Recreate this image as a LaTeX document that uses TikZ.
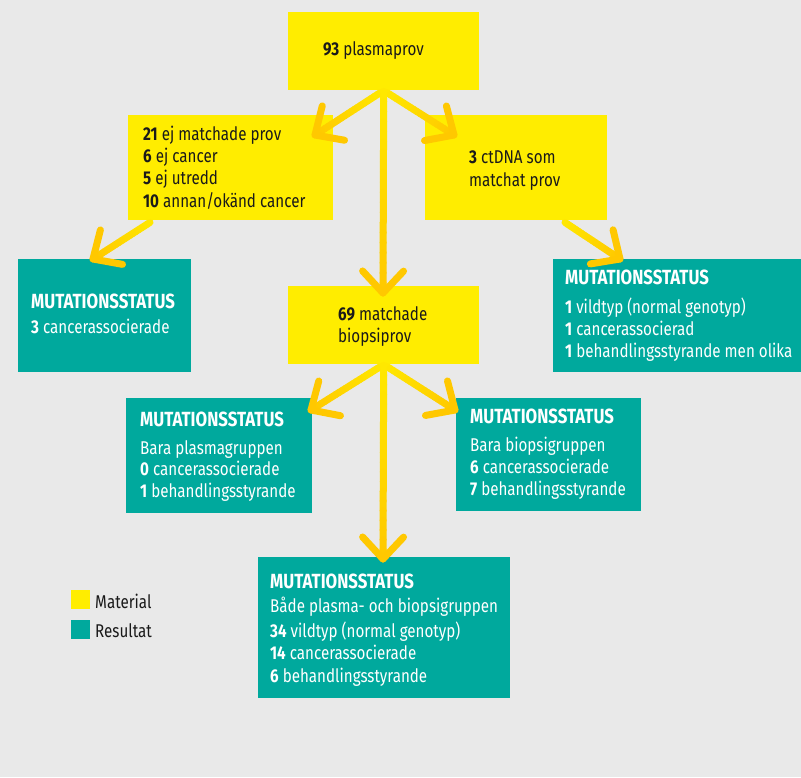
\documentclass[tikz,border=0pt]{standalone}
\usepackage{fontspec}
\setmainfont{Fira Sans}[FakeStretch=0.82]
\usetikzlibrary{calc}
\definecolor{bg}{HTML}{E9E9E9}
\definecolor{ylw}{HTML}{FFED00}
\definecolor{tealbox}{HTML}{00A99D}
\definecolor{arrA}{HTML}{FFE800}
\definecolor{arrB}{HTML}{FFC800}
\definecolor{ink}{HTML}{1A1A1A}
\tikzset{
  matbox/.style={fill=ylw, draw=none, inner sep=0pt, anchor=north west},
  resbox/.style={fill=tealbox, draw=none, inner sep=0pt, anchor=north west},
  dtxt/.style={anchor=base west, inner sep=0pt, text=ink, font=\fontsize{18.5}{22}\selectfont},
  wtxt/.style={anchor=base west, inner sep=0pt, text=white, font=\fontsize{18.5}{22}\selectfont},
  hdr/.style={anchor=base west, inner sep=0pt, text=white, font=\fontsize{20.5}{22}\selectfont\bfseries},
  arrline/.style={line width=7pt, line cap=round, line join=round},
}
\newcommand\gradarrow[2]{%
  \foreach \i in {0,...,19}{%
    \pgfmathsetmacro\pa{\i/20}%
    \pgfmathsetmacro\pb{(\i+1)/20}%
    \pgfmathtruncatemacro\mm{100-\i*5}%
    \draw[arrline, color=arrA!\mm!arrB] ($(#1)!\pa!(#2)$) -- ($(#1)!\pb!(#2)$);
  }%
  \draw[arrline, color=arrB] ($(#2)!30pt!43:(#1)$) -- (#2) -- ($(#2)!30pt!-43:(#1)$);
}
\begin{document}
\begin{tikzpicture}[x=1pt,y=-1pt]
\useasboundingbox (0,0) rectangle (801,777);
\fill[bg] (0,0) rectangle (801,777);

% boxes
\node[matbox, minimum width=191pt, minimum height=78pt] (top) at (288,12) {};
\node[matbox, minimum width=205pt, minimum height=105pt] (nomatch) at (128,115) {};
\node[matbox, minimum width=182pt, minimum height=105pt] (ctdna) at (425,115) {};
\node[resbox, minimum width=173pt, minimum height=113pt] (resL) at (18,259) {};
\node[matbox, minimum width=191pt, minimum height=78pt] (biop) at (288,286) {};
\node[resbox, minimum width=248pt, minimum height=113pt] (resR) at (553,259) {};
\node[resbox, minimum width=186pt, minimum height=115pt] (resP) at (126,398) {};
\node[resbox, minimum width=185pt, minimum height=113pt] (resB) at (456,398) {};
\node[resbox, minimum width=252pt, minimum height=141pt] (resBoth) at (258,557) {};

% texts
\node[dtxt] (t0) at (323,55) {\textbf{93} plasmaprov};

\node[dtxt] (t1a) at (143,140) {\textbf{21} ej matchade prov};
\node[dtxt] (t1b) at (143,162) {\textbf{6} ej cancer};
\node[dtxt] (t1c) at (143,184) {\textbf{5} ej utredd};
\node[dtxt] (t1d) at (143,207) {\textbf{10} annan/okänd cancer};

\node[dtxt] (t2a) at (469,163) {\textbf{3} ctDNA som};
\node[dtxt] (t2b) at (469,186) {matchat prov};

\node[hdr] (t3a) at (31,308) {MUTATIONSSTATUS};
\node[wtxt] (t3b) at (31,333) {\textbf{3} cancerassocierade};

\node[dtxt] (t4a) at (338,320) {\textbf{69} matchade};
\node[dtxt] (t4b) at (338,342) {biopsiprov};

\node[hdr] (t5a) at (565,284) {MUTATIONSSTATUS};
\node[wtxt] (t5b) at (565,313) {\textbf{1} vildtyp (normal genotyp)};
\node[wtxt] (t5c) at (565,335) {\textbf{1} cancerassocierad};
\node[wtxt] (t5d) at (565,357) {\textbf{1} behandlingsstyrande men olika};

\node[hdr] (t6a) at (140,426) {MUTATIONSSTATUS};
\node[wtxt] (t6b) at (140,454) {Bara plasmagruppen};
\node[wtxt] (t6c) at (140,475) {\textbf{0} cancerassocierade};
\node[wtxt] (t6d) at (140,497) {\textbf{1} behandlingsstyrande};

\node[hdr] (t7a) at (470,423) {MUTATIONSSTATUS};
\node[wtxt] (t7b) at (470,451) {Bara biopsigruppen};
\node[wtxt] (t7c) at (470,473) {\textbf{6} cancerassocierade};
\node[wtxt] (t7d) at (470,495) {\textbf{7} behandlingsstyrande};

\node[hdr] (t8a) at (270,588) {MUTATIONSSTATUS};
\node[wtxt] (t8b) at (270,612) {Både plasma- och biopsigruppen};
\node[wtxt] (t8c) at (270,637) {\textbf{34} vildtyp (normal genotyp)};
\node[wtxt] (t8d) at (270,659) {\textbf{14} cancerassocierade};
\node[wtxt] (t8e) at (270,682) {\textbf{6} behandlingsstyrande};

% legend
\node[matbox, minimum width=19pt, minimum height=19pt] (legY) at (71,590) {};
\node[resbox, minimum width=19pt, minimum height=19pt] (legT) at (71,620) {};
\node[dtxt] (legYt) at (95,608) {Material};
\node[dtxt] (legTt) at (95,637) {Resultat};

% arrow coordinates
\coordinate (s1) at ($(top.south)+(0,1)$);
\coordinate (s2) at ($(top.south)+(-3,2)$);
\coordinate (s3) at ($(top.south)+(3,2)$);
\coordinate (s4) at ($(nomatch.south west)+(22,2)$);
\coordinate (s5) at ($(ctdna.south west)+(140,2)$);
\coordinate (s6) at ($(biop.south)+(0,1)$);
\coordinate (s7) at ($(biop.south)+(-3,2)$);
\coordinate (s8) at ($(biop.south)+(3,2)$);
\coordinate (e1) at (383,293);
\coordinate (e2) at (315,135);
\coordinate (e3) at (454,135);
\coordinate (e4) at (93,259);
\coordinate (e5) at (620,259);
\coordinate (e6) at (383,559);
\coordinate (e7) at (311,410);
\coordinate (e8) at (455,410);

\gradarrow{s1}{e1}
\gradarrow{s2}{e2}
\gradarrow{s3}{e3}
\gradarrow{s4}{e4}
\gradarrow{s5}{e5}
\gradarrow{s6}{e6}
\gradarrow{s7}{e7}
\gradarrow{s8}{e8}
\end{tikzpicture}
\end{document}
